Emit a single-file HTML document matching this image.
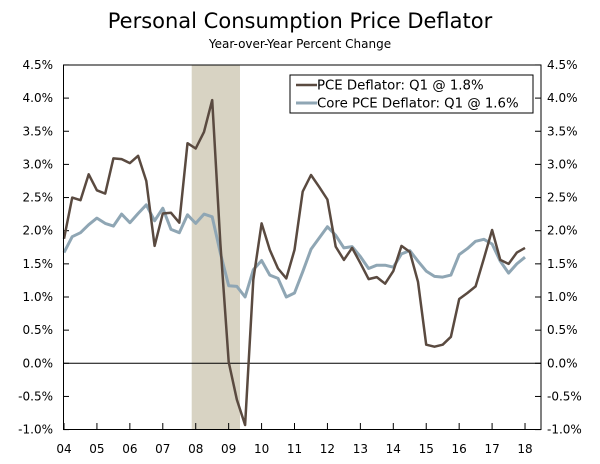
<!DOCTYPE html>
<html><head><meta charset="utf-8"><style>
body{margin:0;background:#fff;}
svg text{font-family:"DejaVu Sans","Liberation Sans",sans-serif;}
</style></head><body>
<svg id="chart" width="600" height="459" xmlns="http://www.w3.org/2000/svg">
<text x="300" y="28" text-anchor="middle" font-size="21" fill="#000">Personal Consumption Price Deflator</text>
<text x="300" y="48" text-anchor="middle" font-size="12" fill="#000">Year-over-Year Percent Change</text>
<rect x="191.7" y="65" width="48.3" height="364.5" fill="#d8d3c3"/>
<g id="grid"></g>
<g id="series"></g>
<rect x="63.5" y="65" width="477.5" height="364.5" fill="none" stroke="#000" stroke-width="1"/>
<g>
<rect x="290" y="75" width="243" height="38" fill="#fff" stroke="#000" stroke-width="1"/>
<line x1="296" y1="85" x2="317" y2="85" stroke="#5a4a40" stroke-width="2.5"/>
<text x="317" y="89.5" font-size="13.3">PCE Deflator: Q1 @ 1.8%</text>
<line x1="296" y1="103" x2="317" y2="103" stroke="#8fa6b4" stroke-width="3"/>
<text x="317" y="107.5" font-size="13.3">Core PCE Deflator: Q1 @ 1.6%</text>
</g>
</svg>
<script>
const yTicks = [4.5,4.0,3.5,3.0,2.5,2.0,1.5,1.0,0.5,0.0,-0.5,-1.0];
const xYears = [2004,2005,2006,2007,2008,2009,2010,2011,2012,2013,2014,2015,2016,2017,2018];
const startYear = 2004;
const pce = [1.88,2.50,2.46,2.85,2.61,2.56,3.09,3.08,3.02,3.13,2.75,1.77,2.26,2.27,2.12,3.32,3.24,3.49,3.97,1.8,0.02,-0.55,-0.93,1.26,2.11,1.71,1.43,1.28,1.71,2.59,2.84,2.66,2.47,1.76,1.56,1.74,1.51,1.27,1.30,1.20,1.39,1.77,1.68,1.23,0.28,0.25,0.28,0.40,0.97,1.06,1.16,1.58,2.01,1.56,1.50,1.67,1.74];
const core = [1.67,1.91,1.97,2.09,2.19,2.11,2.07,2.25,2.12,2.26,2.39,2.15,2.34,2.02,1.97,2.24,2.11,2.25,2.21,1.66,1.17,1.16,1.00,1.41,1.55,1.33,1.28,1.00,1.06,1.38,1.72,1.89,2.06,1.93,1.74,1.76,1.61,1.43,1.48,1.48,1.45,1.65,1.70,1.54,1.39,1.31,1.30,1.33,1.64,1.73,1.84,1.87,1.80,1.54,1.36,1.50,1.60];
const NS='http://www.w3.org/2000/svg';
function yS(v){return 363.3-v*66.3;}
function xS(t){return 64+(t-startYear)*32.93;}
function mk(tag,attrs,parent){const e=document.createElementNS(NS,tag);for(const k in attrs)e.setAttribute(k,attrs[k]);parent.appendChild(e);return e;}
const grid=document.getElementById('grid');
yTicks.forEach(v=>{
  const y=yS(v);
  const l=mk('line',{x1:63.5,x2:69,y1:y,y2:y,stroke:'#000'},grid);
  
  
  const r=mk('line',{x1:535,x2:541,y1:y,y2:y,stroke:'#000'},grid);
  
  
  const lab=v.toFixed(1)+'%';
  const t1=mk('text',{x:53,y:y+4,'text-anchor':'end','font-size':'12'},grid);t1.textContent=lab;
  
  
  const t2=mk('text',{x:547,y:y+4,'font-size':'12'},grid);t2.textContent=lab;
  
  
});
const z=mk('line',{x1:63.5,x2:541,y1:yS(0),y2:yS(0),stroke:'#000'},grid);


xYears.forEach(yr=>{
  const x=xS(yr);
  const tk=mk('line',{x1:x,x2:x,y1:423,y2:429.5,stroke:'#000'},grid);
  
  
  const t=mk('text',{x:x,y:453,'text-anchor':'middle','font-size':'12'},grid);
  t.textContent=String(yr).slice(2);
  
  
});
const ser=document.getElementById('series');
function line(arr,color,w,name){
  const pts=arr.map((v,i)=>xS(startYear+i/4).toFixed(1)+','+yS(v).toFixed(1)).join(' ');
  const p=mk('polyline',{points:pts,fill:'none',stroke:color,'stroke-width':w,'stroke-linejoin':'round'},ser);
  
  
}
line(core,'#8fa6b4',3,'core-pce-line');
line(pce,'#5a4a40',2.5,'pce-line');
</script>
</body></html>
